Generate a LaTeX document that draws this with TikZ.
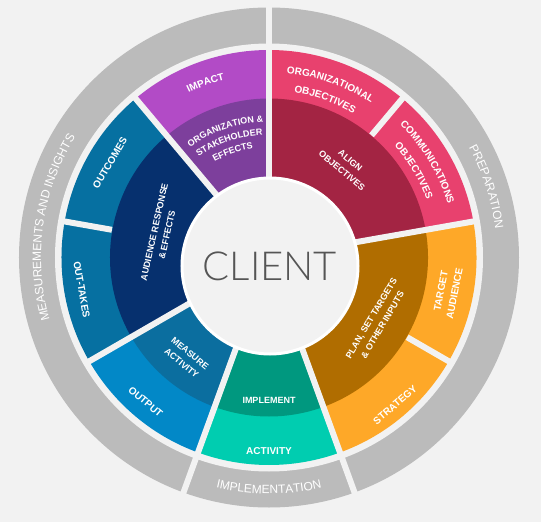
\documentclass[tikz,border=0pt]{standalone}
\usepackage{fontspec}
\setmainfont{Liberation Sans}
\newfontfamily\lightfont{Lato Light}
\usetikzlibrary{decorations.text}

\definecolor{bgcol}{HTML}{F2F2F2}
\definecolor{ringgray}{HTML}{BBBBBB}
\definecolor{clientcol}{HTML}{555555}
\definecolor{pinkcol}{HTML}{E8416E}
\definecolor{aligncol}{HTML}{A32443}
\definecolor{impactcol}{HTML}{B24BC6}
\definecolor{orgeffcol}{HTML}{7D3F9C}
\definecolor{outcomecol}{HTML}{0670A1}
\definecolor{audiencecol}{HTML}{06306E}
\definecolor{outputcol}{HTML}{0288C7}
\definecolor{measurecol}{HTML}{0B6E9F}
\definecolor{activitycol}{HTML}{00CDB0}
\definecolor{implementcol}{HTML}{00987F}
\definecolor{orangecol}{HTML}{FEA828}
\definecolor{plancol}{HTML}{B06D00}

\newcommand\grayfont{\fontsize{12}{12}\selectfont}
\newcommand\segfont{\fontsize{10}{14}\selectfont\bfseries}
\newcommand\smallfont{\fontsize{9}{13}\selectfont\bfseries}

\begin{document}
\begin{tikzpicture}[x=1pt, y=1pt,
    lbl/.style={text=white, font=\segfont, align=center, inner sep=0pt},
    small lbl/.style={lbl, font=\smallfont},
    gap/.style={draw=bgcol, line width=6pt},
    curved/.style={decorate, decoration={text along path, text align=center, text color=white}}]
    \useasboundingbox (-269,-264.5) rectangle (272,257.5);
    \fill[bgcol] (-269,-264.5) rectangle (272,257.5);

    % gray ring
    \fill[ringgray] (0,0) circle (250pt);
    \fill[bgcol] (0,0) circle (214pt);

    % outer ring
    \fill[pinkcol] (0,0) -- (10:207.5) arc[start angle=10, end angle=90, radius=207.5pt] -- cycle;
    \fill[impactcol] (0,0) -- (90:207.5) arc[start angle=90, end angle=130, radius=207.5pt] -- cycle;
    \fill[outcomecol] (0,0) -- (130:207.5) arc[start angle=130, end angle=210, radius=207.5pt] -- cycle;
    \fill[outputcol] (0,0) -- (210:207.5) arc[start angle=210, end angle=250, radius=207.5pt] -- cycle;
    \fill[activitycol] (0,0) -- (250:207.5) arc[start angle=250, end angle=290, radius=207.5pt] -- cycle;
    \fill[orangecol] (0,0) -- (290:207.5) arc[start angle=290, end angle=370, radius=207.5pt] -- cycle;

    % inner ring
    \fill[aligncol] (0,0) -- (10:159) arc[start angle=10, end angle=90, radius=159pt] -- cycle;
    \fill[orgeffcol] (0,0) -- (90:159) arc[start angle=90, end angle=130, radius=159pt] -- cycle;
    \fill[audiencecol] (0,0) -- (130:159) arc[start angle=130, end angle=210, radius=159pt] -- cycle;
    \fill[measurecol] (0,0) -- (210:159) arc[start angle=210, end angle=250, radius=159pt] -- cycle;
    \fill[implementcol] (0,0) -- (250:159) arc[start angle=250, end angle=290, radius=159pt] -- cycle;
    \fill[plancol] (0,0) -- (290:159) arc[start angle=290, end angle=370, radius=159pt] -- cycle;

    % gaps
    \draw[gap] (0,0) -- (90:255);
    \draw[gap] (0,0) -- (250:255);
    \draw[gap] (0,0) -- (290:255);
    \draw[gap] (0,0) -- (10:209);
    \draw[gap] (0,0) -- (130:209);
    \draw[gap] (0,0) -- (210:209);
    \draw[gap] (50:159.5) -- (50:209);
    \draw[gap] (170:159.5) -- (170:209);
    \draw[gap] (330:159.5) -- (330:209);

    % centre
    \fill[bgcol, draw=white, line width=3pt] (1,-8.5) circle (88pt);
    \node[font=\lightfont\fontsize{40}{40}\selectfont, text=clientcol] (client) at (1,-8.5) {CLIENT};

    % gray ring labels
    \path[curved, decoration={text={|\grayfont|PREPARATION}}] (58:228) arc[start angle=58, end angle=-22, radius=228pt];
    \path[curved, decoration={text={|\grayfont|MEASUREMENTS AND INSIGHTS}}] (222:228) arc[start angle=222, end angle=122, radius=228pt];
    \path[curved, decoration={text={|\grayfont|IMPLEMENTATION}}] (245:236.3) arc[start angle=245, end angle=295, radius=236.3pt];

    % outer ring labels
    \path[curved, decoration={text={|\segfont|IMPACT}}] (130:183.4) arc[start angle=130, end angle=90, radius=183.4pt];
    \path[curved, decoration={text={|\segfont|ORGANIZATIONAL}}] (92.5:185) arc[start angle=92.5, end angle=48.5, radius=185pt];
    \path[curved, decoration={text={|\segfont|OBJECTIVES}}] (92.5:167) arc[start angle=92.5, end angle=48.5, radius=167pt];
    \path[curved, decoration={text={|\segfont|COMMUNICATIONS}}] (53:186.5) arc[start angle=53, end angle=9, radius=186.5pt];
    \path[curved, decoration={text={|\segfont|OBJECTIVES}}] (53:168) arc[start angle=53, end angle=9, radius=168pt];
    \node[lbl, rotate=59.3] (outcomes) at (149.3:185) {OUTCOMES};
    \node[lbl, rotate=-80] (outtakes) at (189.7:190) {OUT-TAKES};
    \node[lbl, rotate=-40.5] (output) at (229.5:190) {OUTPUT};
    \node[lbl] (activity) at (270:194) {ACTIVITY};
    \node[lbl, rotate=40.5] (strategy) at (310.5:194) {STRATEGY};
    \node[lbl, rotate=79] (target) at (349:182) {TARGET\\AUDIENCE};

    % inner ring labels
    \path[curved, decoration={text={|\smallfont|ORGANIZATION {\&}}}] (134:135.5) arc[start angle=134, end angle=84, radius=135.5pt];
    \path[curved, decoration={text={|\smallfont|STAKEHOLDER}}] (134:122.8) arc[start angle=134, end angle=84, radius=122.8pt];
    \path[curved, decoration={text={|\smallfont|EFFECTS}}] (134:110) arc[start angle=134, end angle=84, radius=110pt];
    \node[small lbl, rotate=-40] (align) at (50:120) {ALIGN\\OBJECTIVES};
    \node[small lbl, rotate=77.5] (audience) at (167.5:111) {AUDIENCE RESPONSE\\\& EFFECTS};
    \node[small lbl, rotate=-39.5] (measure) at (230.5:130.7) {MEASURE\\ACTIVITY};
    \node[small lbl] (implement) at (270:142.5) {IMPLEMENT};
    \node[small lbl, rotate=59.3] (plan) at (329.3:125.5) {PLAN, SET TARGETS\\\& OTHER INPUTS};
\end{tikzpicture}
\end{document}
